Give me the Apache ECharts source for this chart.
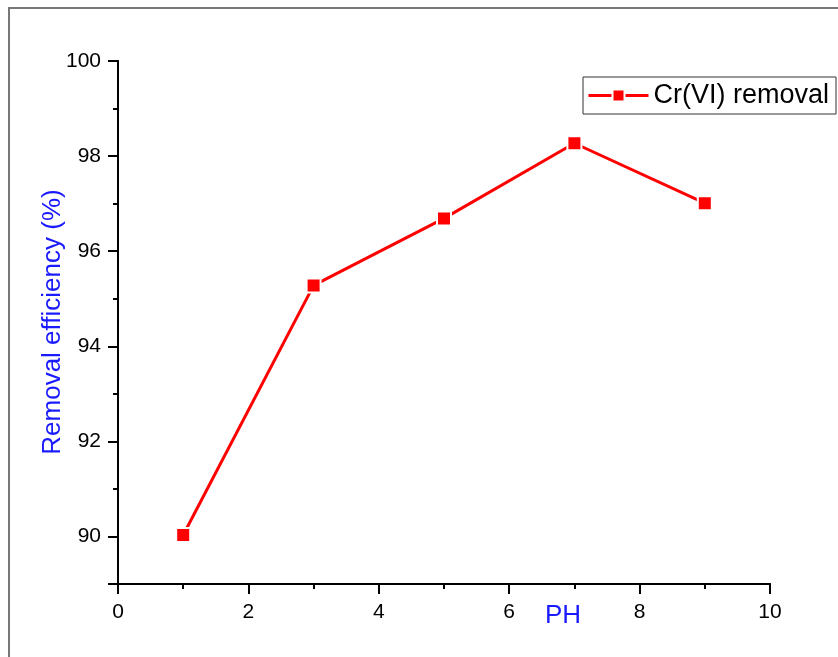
<!DOCTYPE html>
<html>
<head>
<meta charset="utf-8">
<script src="https://cdn.jsdelivr.net/npm/echarts@6/dist/echarts.min.js"></script>
<style>html,body{margin:0;padding:0;background:#fff;}#c{width:838px;height:657px;}</style>
</head>
<body>
<div id="c"></div>
<script>
var phValues = [1, 3, 5, 7, 9];
var removalValues = [90.03, 95.28, 96.69, 98.27, 97.01];
var seriesName = 'Cr(VI) removal';
var xTitle = 'PH';
var yTitle = 'Removal efficiency (%)';

var chart = echarts.init(document.getElementById('c'), null, {renderer: 'canvas'});
var font = '"Liberation Sans", Arial, sans-serif';
var data = phValues.map(function (x, i) { return [x, removalValues[i]]; });

chart.setOption({
  animation: false,
  backgroundColor: '#fff',
  grid: {left: 118, top: 61, right: 68, bottom: 73},
  xAxis: [
    {type: 'value', min: 0, max: 10, interval: 2, position: 'bottom',
     axisLine: {onZero: false, lineStyle: {color: '#000', width: 2}},
     axisTick: {length: 10, lineStyle: {color: '#000', width: 2}},
     axisLabel: {color: '#000', fontSize: 21, fontFamily: font, margin: 18},
     splitLine: {show: false}},
    {type: 'value', min: 0, max: 10, interval: 1, position: 'bottom',
     axisLine: {onZero: false, lineStyle: {color: '#000', width: 2}},
     axisTick: {length: 5, lineStyle: {color: '#000', width: 2}},
     axisLabel: {show: false},
     splitLine: {show: false}}
  ],
  yAxis: [
    {type: 'value', min: 89, max: 100, interval: 1, position: 'left',
     axisLine: {onZero: false, lineStyle: {color: '#000', width: 2}},
     axisTick: {length: 5, lineStyle: {color: '#000', width: 2}},
     axisLabel: {show: false},
     splitLine: {show: false}},
    {type: 'value', min: 0, max: 11, interval: 2, inverse: true, position: 'left',
     axisLine: {onZero: false, lineStyle: {color: '#000', width: 2}},
     axisTick: {length: 10, lineStyle: {color: '#000', width: 2}},
     axisLabel: {color: '#000', fontSize: 21, fontFamily: font, margin: 17,
       formatter: function (v) { return (v % 2 === 0) ? String(100 - v) : ''; }},
     splitLine: {show: false}}
  ],
  legend: {
    left: 583, top: 77,
    data: [seriesName],
    orient: 'vertical',
    itemWidth: 60, itemHeight: 15,
    padding: [5, 7, 5, 4],
    borderColor: '#333', borderWidth: 1,
    lineStyle: {width: 3},
    textStyle: {color: '#000', fontSize: 27, fontFamily: font}
  },
  graphic: [
    {type: 'polyline', shape: {points: [[9, 657], [9, 8], [838, 8]]},
     style: {stroke: '#777', lineWidth: 2, fill: null}, silent: true},
    {type: 'text', left: 545, top: 603,
     style: {text: xTitle, fill: '#1a1aff', font: '26px ' + font}},
    {type: 'text', x: 53, y: 322, rotation: Math.PI / 2,
     style: {text: yTitle, fill: '#1a1aff', font: '26px ' + font, align: 'center', verticalAlign: 'middle'}}
  ],
  series: [{
    name: seriesName,
    type: 'line',
    xAxisIndex: 0, yAxisIndex: 0,
    data: data,
    symbol: 'rect',
    symbolSize: 14,
    lineStyle: {color: '#ff0000', width: 3},
    itemStyle: {color: '#ff0000', borderColor: '#fff', borderWidth: 2}
  }]
});
</script>
</body>
</html>
